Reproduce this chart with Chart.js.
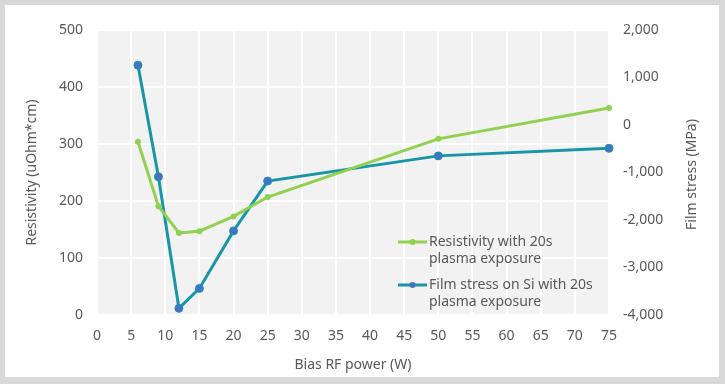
<!DOCTYPE html>
<html>
<head>
<meta charset="utf-8">
<script src="https://cdn.jsdelivr.net/npm/chart.js@4/dist/chart.umd.min.js"></script>
<style>
  html, body { margin: 0; padding: 0; background: #d9d9d9; }
  #wrap { width: 725px; height: 384px; position: relative; }
  canvas { display: block; }
</style>
</head>
<body>
<div id="wrap"><canvas id="c" width="725" height="384"></canvas></div>
<script>
// ---- data ----
const biasPower = [6, 9, 12, 15, 20, 25, 50, 75];
const resistivity = [304, 191, 144, 147, 173, 207, 309, 363];
const filmStress = [1260, -1090, -3860, -3440, -2230, -1180, -650, -490];
const seriesLabels = [
  ["Resistivity with 20s", "plasma exposure"],
  ["Film stress on Si with 20s", "plasma exposure"]
];
const xTitle = "Bias RF power (W)";
const yLeftTitle = "Resistivity (uOhm*cm)";
const yRightTitle = "Film stress (MPa)";

const GREEN = "#92d050";
const TEAL = "#1896a8";
const BLUE = "#4472c4";
const TEXT = "#595959";
const FONT = "'Noto Sans', sans-serif";

const framePlugin = {
  id: "frame",
  beforeDraw(chart) {
    const ctx = chart.ctx;
    const a = chart.chartArea;
    ctx.save();
    ctx.fillStyle = "#d9d9d9";
    ctx.fillRect(0, 0, chart.width, chart.height);
    ctx.fillStyle = "#ffffff";
    ctx.fillRect(5, 5, 714, 372);
    ctx.fillStyle = "#f2f2f2";
    ctx.fillRect(a.left, a.top, a.right - a.left, a.bottom - a.top);
    ctx.restore();
  },
  afterDraw(chart) {
    // right axis title reading bottom-to-top
    const ctx = chart.ctx;
    const s = chart.scales.y1;
    ctx.save();
    ctx.fillStyle = TEXT;
    ctx.font = "14px " + FONT;
    ctx.textAlign = "center";
    ctx.textBaseline = "middle";
    ctx.translate(s.right - 33, (chart.chartArea.top + chart.chartArea.bottom) / 2 + 2);
    ctx.rotate(-Math.PI / 2);
    ctx.fillText(yRightTitle, 0, 0);
    ctx.restore();
  }
};

const legendPlugin = {
  id: "customLegend",
  afterDatasetsDraw(chart) {
    const ctx = chart.ctx;
    const x0 = 398, x1 = 427, tx = 429;
    const rows = [242, 285];
    ctx.save();
    chart.data.datasets.forEach((ds, i) => {
      const y = rows[i];
      ctx.strokeStyle = ds.borderColor;
      ctx.lineWidth = 3;
      ctx.beginPath();
      ctx.moveTo(x0, y);
      ctx.lineTo(x1, y);
      ctx.stroke();
      ctx.fillStyle = ds.pointBackgroundColor;
      ctx.beginPath();
      ctx.arc((x0 + x1) / 2, y, 3, 0, Math.PI * 2);
      ctx.fill();
      ctx.fillStyle = TEXT;
      ctx.font = "14px " + FONT;
      ctx.textBaseline = "middle";
      ctx.textAlign = "left";
      seriesLabels[i].forEach((t, k) => ctx.fillText(t, tx, y + k * 17));
    });
    ctx.restore();
  }
};

new Chart(document.getElementById("c"), {
  type: "line",
  data: {
    datasets: [
      {
        label: seriesLabels[0].join(" "),
        data: biasPower.map((x, i) => ({ x, y: resistivity[i] })),
        yAxisID: "y",
        borderColor: GREEN,
        backgroundColor: GREEN,
        pointBackgroundColor: GREEN,
        pointBorderColor: GREEN,
        borderWidth: 3,
        pointRadius: 3,
        pointBorderWidth: 0,
        tension: 0,
        clip: false
      },
      {
        label: seriesLabels[1].join(" "),
        data: biasPower.map((x, i) => ({ x, y: filmStress[i] })),
        yAxisID: "y1",
        borderColor: TEAL,
        backgroundColor: TEAL,
        pointBackgroundColor: BLUE,
        pointBorderColor: TEAL,
        borderWidth: 3,
        pointRadius: 4,
        pointBorderWidth: 1,
        tension: 0,
        clip: false
      }
    ]
  },
  options: {
    responsive: false,
    animation: false,
    layout: { padding: { top: 30, left: 0, right: 0, bottom: 0 } },
    plugins: { legend: { display: false }, tooltip: { enabled: false } },
    scales: {
      x: {
        type: "linear",
        min: 0, max: 75,
        afterFit(s) { s.height = 69; },
        ticks: { stepSize: 5, color: TEXT, font: { family: FONT, size: 14 }, padding: 13 },
        grid: { color: "#ffffff", lineWidth: 2, drawTicks: false },
        border: { display: false },
        title: { display: true, text: xTitle, color: TEXT, font: { family: FONT, size: 14 }, padding: { top: 0, bottom: 11 } }
      },
      y: {
        position: "left",
        min: 0, max: 500,
        afterFit(s) { s.width = 97; },
        ticks: { stepSize: 100, color: TEXT, font: { family: FONT, size: 14 }, padding: 14 },
        grid: { color: "#ffffff", lineWidth: 2, drawTicks: false },
        border: { display: false },
        title: { display: true, text: yLeftTitle, color: TEXT, font: { family: FONT, size: 14 }, padding: { top: 24, bottom: 0 } }
      },
      y1: {
        position: "right",
        min: -4000, max: 2000,
        afterFit(s) { s.width = 116; },
        ticks: { stepSize: 1000, color: TEXT, font: { family: FONT, size: 14 }, padding: 14,
          callback: v => v.toLocaleString("en-US") },
        grid: { display: false, drawOnChartArea: false, drawTicks: false },
        border: { display: false },
        title: { display: false }
      }
    }
  },
  plugins: [framePlugin, legendPlugin]
});
</script>
</body>
</html>
